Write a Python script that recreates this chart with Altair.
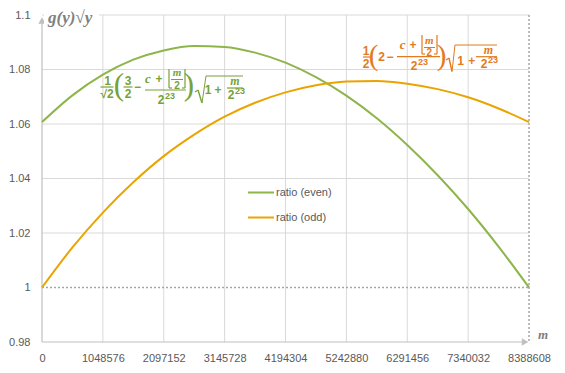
import altair as alt
import pandas as pd

# ---------------- data ----------------
m_vals = [0, 524288, 1048576, 1572864, 2097152, 2621440, 3145728, 3670016,
          4194304, 4718592, 5242880, 5767168, 6291456, 6815744, 7340032,
          7864320, 8388608]
ratio_even = [1.0607, 1.0705, 1.0781, 1.0836, 1.0870, 1.0886, 1.0883, 1.0862,
              1.0825, 1.0772, 1.0704, 1.0621, 1.0523, 1.0412, 1.0288, 1.0150,
              1.0000]
ratio_odd = [1.0000, 1.0147, 1.0275, 1.0386, 1.0482, 1.0561, 1.0627, 1.0678,
             1.0716, 1.0742, 1.0756, 1.0758, 1.0748, 1.0728, 1.0698, 1.0657,
             1.0607]
series_names = ["ratio (even)", "ratio (odd)"]
x_ticks = [0, 1048576, 2097152, 3145728, 4194304, 5242880, 6291456, 7340032, 8388608]
y_ticks = [0.98, 1.0, 1.02, 1.04, 1.06, 1.08, 1.1]

# ---------------- styles / layout ----------------
W, H = 487, 327
C_EVEN, C_ODD = "#8DB54B", "#E9A400"
F_EVEN, F_ODD = "#77A23A", "#E27B1E"
GRID, AXIS, LBL = "#D9D9D9", "#BFBFBF", "#595959"
FONT = "Liberation Sans"

long = pd.DataFrame({
    "m": m_vals * 2,
    "ratio": ratio_even + ratio_odd,
    "series": [series_names[0]] * len(m_vals) + [series_names[1]] * len(m_vals),
})

xs = alt.Scale(domain=[x_ticks[0], x_ticks[-1]], nice=False, zero=False)
ys = alt.Scale(domain=[y_ticks[0], y_ticks[-1]], nice=False, zero=False)
x_axis = alt.Axis(values=x_ticks, format="d", domain=False, ticks=False, tickSize=0,
                  grid=False, labelPadding=10, labelColor=LBL, labelFont=FONT,
                  labelFontSize=11, labelFlush=False, labelOverlap=False, title=None)
y_axis = alt.Axis(values=y_ticks, labelExpr="format(datum.value, '.2~f')",
                  domain=False, ticks=False, tickSize=0, grid=False,
                  labelPadding=12, labelColor=LBL, labelFont=FONT,
                  labelFontSize=11, labelFlush=False, labelOverlap=False, title=None)

# grid
vgrid = alt.Chart(pd.DataFrame({"x": x_ticks[1:-1]})).mark_rule(color=GRID, strokeWidth=1).encode(
    x=alt.X("x:Q", scale=xs, axis=x_axis, title=None), y=alt.value(0), y2=alt.value(H))
hgrid = alt.Chart(pd.DataFrame({"y": [v for v in y_ticks if v not in (0.98, 1.0)]})).mark_rule(
    color=GRID, strokeWidth=1).encode(
    y=alt.Y("y:Q", scale=ys, axis=y_axis, title=None), x=alt.value(0), x2=alt.value(W))
dot_h = alt.Chart(pd.DataFrame({"y": [1.0]})).mark_rule(
    color="#A6A6A6", strokeWidth=1.5, strokeDash=[2, 2]).encode(
    y=alt.Y("y:Q", scale=ys, axis=y_axis, title=None), x=alt.value(0), x2=alt.value(W))
dot_v = alt.Chart(pd.DataFrame({"x": [x_ticks[-1]]})).mark_rule(
    color="#A6A6A6", strokeWidth=1.5, strokeDash=[2, 2]).encode(
    x=alt.X("x:Q", scale=xs, axis=x_axis, title=None), y=alt.value(0), y2=alt.value(H))

# curves
lines = alt.Chart(long).mark_line(strokeWidth=2, interpolate="monotone").encode(
    x=alt.X("m:Q", scale=xs, axis=x_axis, title=None),
    y=alt.Y("ratio:Q", scale=ys, axis=y_axis, title=None),
    color=alt.Color("series:N", scale=alt.Scale(domain=series_names, range=[C_EVEN, C_ODD]),
                    legend=None),
    detail="series:N",
)

# axis lines with arrows
axis_lines = pd.DataFrame({"x0": [0, 0], "y0": [5, H], "x1": [0, W - 5], "y1": [H, H]})
axes = alt.Chart(axis_lines).mark_rule(color=AXIS, strokeWidth=1.2).encode(
    x=alt.X("x0:Q", scale=None), y=alt.Y("y0:Q", scale=None),
    x2="x1:Q", y2="y1:Q")
arrows = pd.DataFrame({"x": [0, W - 4], "y": [5.5, H], "shape": ["triangle-up", "triangle-right"]})
arrow_marks = alt.Chart(arrows).mark_point(filled=True, size=55, color=AXIS, opacity=1).encode(
    x=alt.X("x:Q", scale=None), y=alt.Y("y:Q", scale=None),
    shape=alt.Shape("shape:N", scale=None))

# custom legend
leg = pd.DataFrame({"series": series_names, "col": [C_EVEN, C_ODD],
                    "ly": [177.5 + 25 * i for i in range(len(series_names))]})
leg_line = alt.Chart(leg).mark_rule(strokeWidth=2).encode(
    x=alt.value(206), x2=alt.value(232), y=alt.Y("ly:Q", scale=None),
    color=alt.Color("col:N", scale=None))
leg_text = alt.Chart(leg).mark_text(align="left", baseline="middle", font=FONT, fontSize=11,
                                    color=LBL).encode(
    x=alt.value(234), y=alt.Y("ly:Q", scale=None), text="series:N")

# formula layouts (pixel layout, relative to plot origin)
pieces = [
    # green formula
    ("1", 65.5, 65.5, 12, "num", F_EVEN), ("√2", 65, 79, 12, "num", F_EVEN),
    ("(", 77, 71, 31, "par", F_EVEN),
    ("3", 86, 65.5, 12, "num", F_EVEN), ("2", 86, 78.5, 12, "num", F_EVEN),
    ("−", 95.5, 72, 12, "num", F_EVEN),
    ("c", 106, 64, 13, "var", F_EVEN), ("+", 117, 64, 12, "num", F_EVEN),
    ("m", 135, 58, 11, "var", F_EVEN), ("2", 135, 70.5, 10, "num", F_EVEN),
    ("2", 119, 84.5, 12, "num", F_EVEN), ("23", 128, 80.5, 9, "num", F_EVEN),
    (")", 147, 71, 31, "par", F_EVEN),
    ("1", 166, 75, 12, "num", F_EVEN), ("+", 176, 75, 12, "num", F_EVEN),
    ("m", 193, 66, 12, "var", F_EVEN),
    ("2", 189, 80, 12, "num", F_EVEN), ("23", 198, 76, 9, "num", F_EVEN),
    # orange formula
    ("1", 324, 35.5, 12, "num", F_ODD), ("2", 324, 48.5, 12, "num", F_ODD),
    ("(", 331.5, 41, 29, "par", F_ODD),
    ("2", 339.7, 42, 12, "num", F_ODD), ("−", 348, 42, 12, "num", F_ODD),
    ("c", 360.7, 29.5, 13, "var", F_ODD), ("+", 371, 29.5, 12, "num", F_ODD),
    ("m", 387.3, 25.5, 11, "var", F_ODD), ("2", 387.3, 38, 10, "num", F_ODD),
    ("2", 372, 50.5, 12, "num", F_ODD), ("23", 381, 46.5, 9, "num", F_ODD),
    (")", 399.5, 41, 29, "par", F_ODD),
    ("1", 418.7, 45.5, 12, "num", F_ODD), ("+", 429.7, 45.5, 12, "num", F_ODD),
    ("m", 446.3, 34.5, 12, "var", F_ODD),
    ("2", 442, 49, 12, "num", F_ODD), ("23", 451, 45, 9, "num", F_ODD),
]
ptab = pd.DataFrame(pieces, columns=["t", "px", "py", "fs", "kind", "col"])

segs = [
    # green: fraction bars, floor brackets, radical
    (58.5, 72, 71.5, 72, 1.2, F_EVEN), (81.5, 72, 90.5, 72, 1.2, F_EVEN),
    (129, 64.5, 141, 64.5, 1.0, F_EVEN), (103, 75, 144, 75, 1.2, F_EVEN),
    (127, 54, 127, 73, 1.2, F_EVEN), (127, 73, 130, 73, 1.2, F_EVEN),
    (143, 54, 143, 73, 1.2, F_EVEN), (140, 73, 143, 73, 1.2, F_EVEN),
    (185, 73, 201, 73, 1.2, F_EVEN),
    (153, 77, 156, 75, 1.2, F_EVEN), (156, 75, 160, 88, 1.4, F_EVEN),
    (160, 88, 164, 61, 1.0, F_EVEN), (164, 61, 201, 61, 1.0, F_EVEN),
    # orange
    (321, 42, 328, 42, 1.2, F_ODD), (355, 41.7, 398, 41.7, 1.2, F_ODD),
    (382, 32.5, 393, 32.5, 1.0, F_ODD),
    (380, 20, 380, 39, 1.2, F_ODD), (380, 39, 383, 39, 1.2, F_ODD),
    (395, 20, 395, 39, 1.2, F_ODD), (392, 39, 395, 39, 1.2, F_ODD),
    (434, 41.7, 455, 41.7, 1.2, F_ODD),
    (404, 45, 407, 43, 1.2, F_ODD), (407, 43, 410, 56.5, 1.4, F_ODD),
    (410, 56.5, 413, 30, 1.0, F_ODD), (413, 30, 455, 30, 1.0, F_ODD),
    # overline of sqrt(y) in the axis title
    (44, -5, 53, -5, 1.0, "#808080"),
]
stab = pd.DataFrame(segs, columns=["x0", "y0", "x1", "y1", "w", "col"])

def ftext(kind, **mk):
    return alt.Chart(ptab).transform_filter(alt.datum.kind == kind).mark_text(
        align="center", baseline="middle", **mk).encode(
        x=alt.X("px:Q", scale=None), y=alt.Y("py:Q", scale=None), text="t:N",
        size=alt.Size("fs:Q", scale=None), color=alt.Color("col:N", scale=None))

f_num = ftext("num", font=FONT, fontWeight="bold")
f_var = ftext("var", font="Liberation Serif", fontWeight="bold", fontStyle="italic")
f_par = ftext("par", font="Liberation Serif", fontWeight="normal")
f_seg = alt.Chart(stab).mark_rule().encode(
    x=alt.X("x0:Q", scale=None), y=alt.Y("y0:Q", scale=None), x2="x1:Q", y2="y1:Q",
    strokeWidth=alt.StrokeWidth("w:Q", scale=None), color=alt.Color("col:N", scale=None))

# axis titles
title_bg = alt.Chart(pd.DataFrame({"a": [0]})).mark_rect(color="white").encode(
    x=alt.value(2), x2=alt.value(57), y=alt.value(-6), y2=alt.value(9))
ytitle = alt.Chart(pd.DataFrame({"t": ["g(y)√y"]})).mark_text(
    align="left", baseline="middle", font="Liberation Serif", fontStyle="italic",
    fontWeight="bold", fontSize=17, color="#808080").encode(
    x=alt.value(6), y=alt.value(3), text="t:N")
xtitle = alt.Chart(pd.DataFrame({"t": ["m"]})).mark_text(
    align="center", baseline="middle", font="Liberation Serif", fontStyle="italic",
    fontWeight="bold", fontSize=13, color="#808080").encode(
    x=alt.value(501), y=alt.value(320), text="t:N")

chart = alt.layer(
    vgrid, hgrid, dot_h, dot_v, axes, arrow_marks, lines, leg_line, leg_text,
    f_seg, f_num, f_var, f_par, title_bg, ytitle, xtitle
).properties(
    width=W, height=H, autosize="none",
    padding={"left": 34, "top": 7, "right": 24, "bottom": 22},
).configure_view(stroke=None)

chart.save("out.html", embed_options={"renderer": "svg", "actions": False})
